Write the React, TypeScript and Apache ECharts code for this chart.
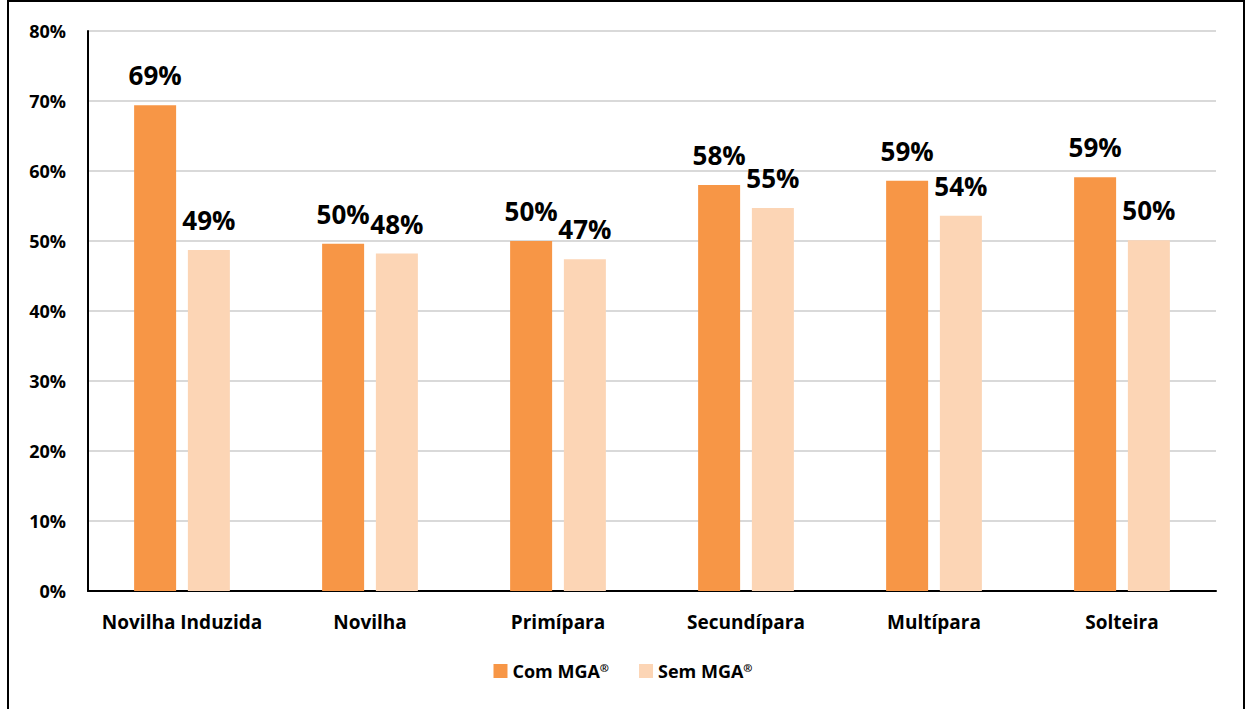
import React, { useEffect, useRef } from "react";
import * as echarts from "echarts";

const categories = ["Novilha Induzida", "Novilha", "Primípara", "Secundípara", "Multípara", "Solteira"];
const comMGA = [69.4, 49.6, 50.0, 58.0, 58.6, 59.1];
const semMGA = [48.7, 48.2, 47.4, 54.7, 53.6, 50.1];
const comLabels = ["69%", "50%", "50%", "58%", "59%", "59%"];
const semLabels = ["49%", "48%", "47%", "55%", "54%", "50%"];
const seriesNames = ["Com MGA®", "Sem MGA®"];

const FONT = "'Open Sans', 'Noto Sans', sans-serif";

export default function App() {
  const ref = useRef<HTMLDivElement>(null);
  useEffect(() => {
    if (!ref.current) return;
    const chart = echarts.init(ref.current, undefined, { renderer: "svg" });
    const dataLabel = (labels: string[]) => ({
      show: true,
      position: "top",
      distance: 17,
      fontSize: 26,
      fontWeight: "bold",
      color: "#000",
      fontFamily: FONT,
      formatter: (p: any) => labels[p.dataIndex],
    });
    chart.setOption({
      animation: false,
      backgroundColor: "#ffffff",
      textStyle: { fontFamily: FONT },
      grid: { left: 88, right: 30, top: 31, bottom: 118, containLabel: false },
      legend: {
        bottom: 24,
        left: "center",
        itemWidth: 14,
        itemHeight: 14,
        itemGap: 30,
        icon: "rect",
        formatter: (name: string) => name.replace("®", "") + "{sup|®}",
        textStyle: {
          fontSize: 18,
          fontWeight: "bold",
          color: "#000",
          fontFamily: FONT,
          rich: {
            sup: { fontSize: 11, fontWeight: "bold", color: "#000", fontFamily: FONT, verticalAlign: "top", padding: [0, 0, 8, 0] },
          },
        },
        data: seriesNames,
      },
      xAxis: {
        type: "category",
        data: categories,
        axisLine: { lineStyle: { color: "#000", width: 2 } },
        axisTick: { show: false },
        axisLabel: { interval: 0, fontSize: 19, fontWeight: "bold", color: "#000", margin: 21, fontFamily: FONT },
      },
      yAxis: {
        type: "value",
        min: 0,
        max: 80,
        interval: 10,
        axisLine: { show: true, lineStyle: { color: "#000", width: 2 } },
        axisTick: { show: false },
        splitLine: { lineStyle: { color: "#d9d9d9", width: 2 } },
        axisLabel: { formatter: "{value}%", fontSize: 18, fontWeight: "bold", color: "#000", margin: 22, fontFamily: FONT },
      },
      series: [
        {
          name: seriesNames[0],
          type: "bar",
          data: comMGA,
          barWidth: 42,
          barGap: "28%",
          itemStyle: { color: "#F79646" },
          label: dataLabel(comLabels),
        },
        {
          name: seriesNames[1],
          type: "bar",
          data: semMGA,
          barWidth: 42,
          itemStyle: { color: "#FCD5B5" },
          label: dataLabel(semLabels),
        },
      ],
      graphic: [
        {
          type: "rect",
          silent: true,
          shape: { x: 8, y: 1, width: 1236, height: 720 },
          style: { fill: "none", stroke: "#000", lineWidth: 2 },
        },
      ],
    });
    return () => chart.dispose();
  }, []);
  return (
    <div
      ref={ref}
      style={{ position: "absolute", left: 0, top: 0, width: 1246, height: 709 }}
    />
  );
}
